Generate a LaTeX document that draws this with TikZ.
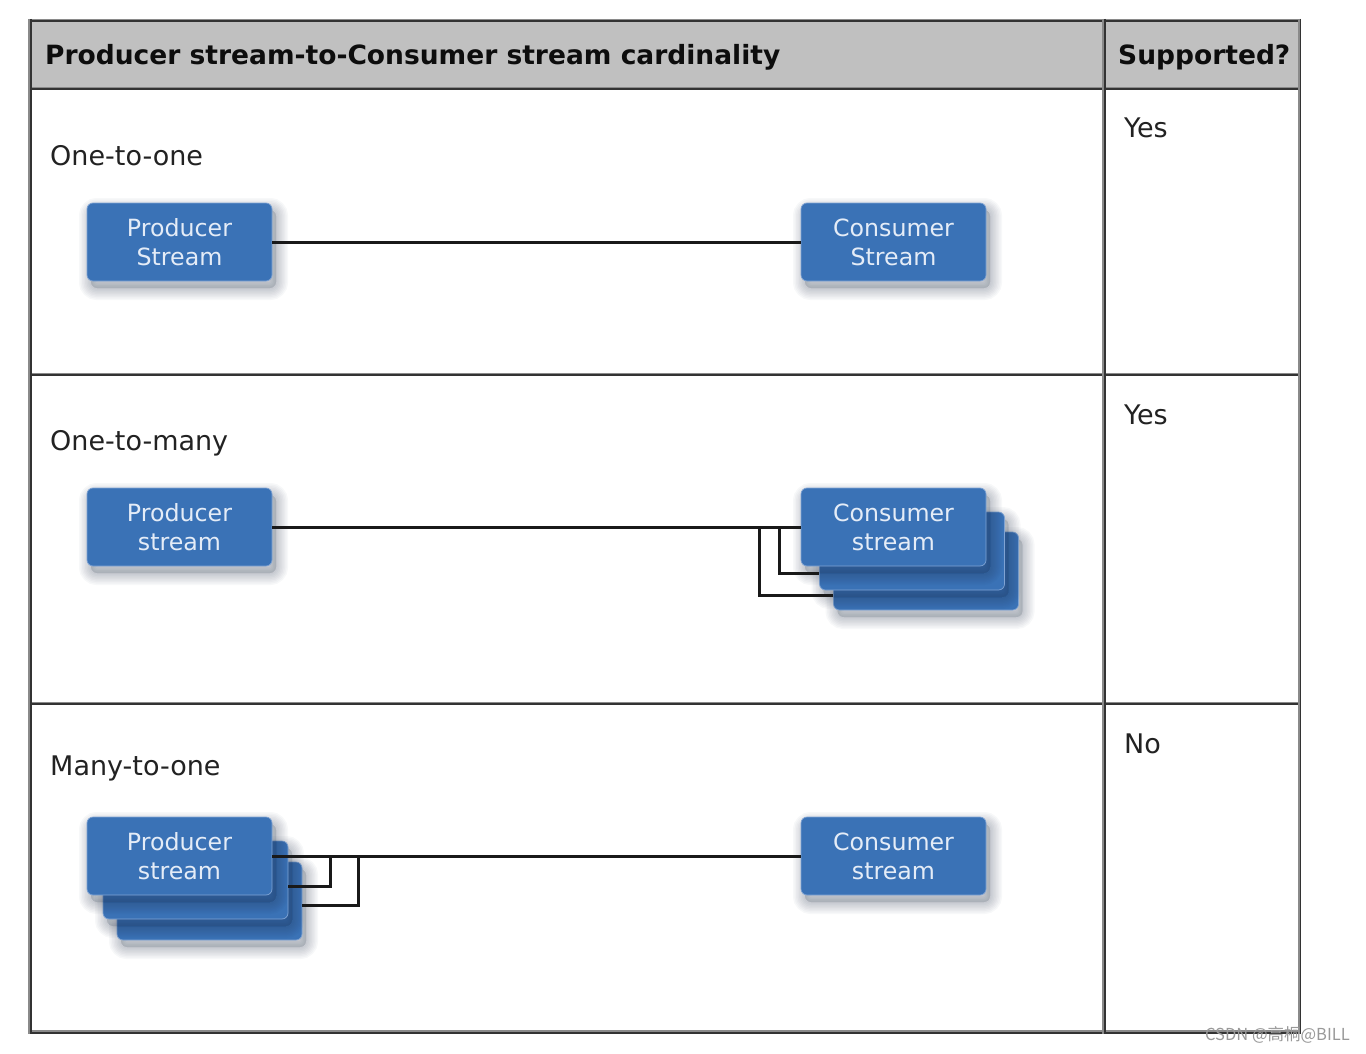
\documentclass[tikz,border=0pt]{standalone}
\usepackage{fontspec}
\setmainfont{DejaVu Sans}
\newfontfamily\cjk{Noto Sans CJK SC}
\usetikzlibrary{calc}
\definecolor{boxblue}{HTML}{3A72B6}
\definecolor{boxedge}{HTML}{7FA3D3}
\definecolor{boxtext}{HTML}{E4ECF7}
\definecolor{headgray}{HTML}{C0C0C0}
\definecolor{rulelight}{HTML}{8A8A8A}
\definecolor{ruledark}{HTML}{333333}
\definecolor{labeltext}{HTML}{222222}
\definecolor{shadowc}{HTML}{1A2A44}
\begin{document}
\begin{tikzpicture}[x=1pt,y=-1pt,
  shlayer/.style={preaction={draw=shadowc, draw opacity=0.03, fill=shadowc, fill opacity=0.02,
    line width=#1, transform canvas={shift={(4pt,-7pt)}}}},
  stream/.style={rectangle, rounded corners=6pt, fill=boxblue, draw=boxedge, line width=0.7pt,
    minimum width=185pt, minimum height=78pt, inner sep=0pt, align=center, text=boxtext,
    font=\fontsize{23.7}{29}\selectfont,
    shlayer=24pt, shlayer=21pt, shlayer=18pt, shlayer=15pt, shlayer=12pt, shlayer=9pt,
    shlayer=6pt, shlayer=3pt},
  conn/.style={draw=black!90, line width=3pt},
  hdr/.style={anchor=base west, inner sep=0pt, text=black!95, font=\bfseries\fontsize{26.5}{30}\selectfont},
  lbl/.style={anchor=base west, inner sep=0pt, text=labeltext, font=\fontsize{27}{30}\selectfont},
  rl/.style={draw=rulelight, line width=1.7pt},
  rd/.style={draw=ruledark, line width=1.7pt}]
\useasboundingbox (0,0) rectangle (1366,1054);
\fill[white] (0,0) rectangle (1366,1054);
% header
\fill[headgray] (30,20) rectangle (1300,88);
% horizontal rules
\foreach \y in {20.5,88.5,374.3,703.3,1032} {
  \draw[rl] (28.5,\y-0.85) -- (1301,\y-0.85);
  \draw[rd] (28.5,\y+0.85) -- (1301,\y+0.85);
}
% vertical rules
\foreach \x in {30,1104,1299.5} {
  \draw[rl] (\x-0.85,19) -- (\x-0.85,1034);
  \draw[rd] (\x+0.85,19) -- (\x+0.85,1034);
}
% header texts
\node[hdr] (h1) at (45,65) {Producer stream-to-Consumer stream cardinality};
\node[hdr] (h2) at (1118,65) {Supported?};
% row labels
\node[lbl] (l1) at (50,165) {One-to-one};
\node[lbl] (l2) at (50,450) {One-to-many};
\node[lbl] (l3) at (50,775) {Many-to-one};
\node[lbl] (s1) at (1124,138) {Yes};
\node[lbl] (s2) at (1124,424) {Yes};
\node[lbl] (s3) at (1124,753) {No};
% row 1
\node[stream] (p1) at (179.5,242) {Producer\\Stream};
\node[stream] (c1) at (893.5,242) {Consumer\\Stream};
\draw[conn] (p1.east) -- (c1.west);
% row 2
\node[stream] (p2) at (179.5,527) {Producer\\stream};
\node[stream] (c2c) at (926,571) {};
\node[stream] (c2b) at (912,551) {};
\node[stream] (c2a) at (893.5,527) {Consumer\\stream};
\coordinate (j2a) at (759,527);
\coordinate (j2b) at (779,527);
\draw[conn] (p2.east) -- (c2a.west);
\draw[conn] (j2a) |- ($(c2c.west)+(0,24)$);
\draw[conn] (j2b) |- ($(c2b.west)+(0,22)$);
% row 3
\node[stream] (p3c) at (209.5,901) {};
\node[stream] (p3b) at (195.5,880) {};
\node[stream] (p3a) at (179.5,856) {Producer\\stream};
\node[stream] (c3) at (893.5,856) {Consumer\\stream};
\coordinate (j3a) at (330,857);
\coordinate (j3b) at (358,857);
\draw[conn] (p3a.east) -- (c3.west);
\draw[conn] (j3a) |- ($(p3b.east)+(0,6)$);
\draw[conn] (j3b) |- ($(p3c.east)+(0,4)$);
% watermark
\node[anchor=base east, inner sep=0pt, text=black!40, font=\cjk\fontsize{16.5}{18}\selectfont] (wm) at (1350,1040) {CSDN @高桐@BILL};
\end{tikzpicture}
\end{document}
